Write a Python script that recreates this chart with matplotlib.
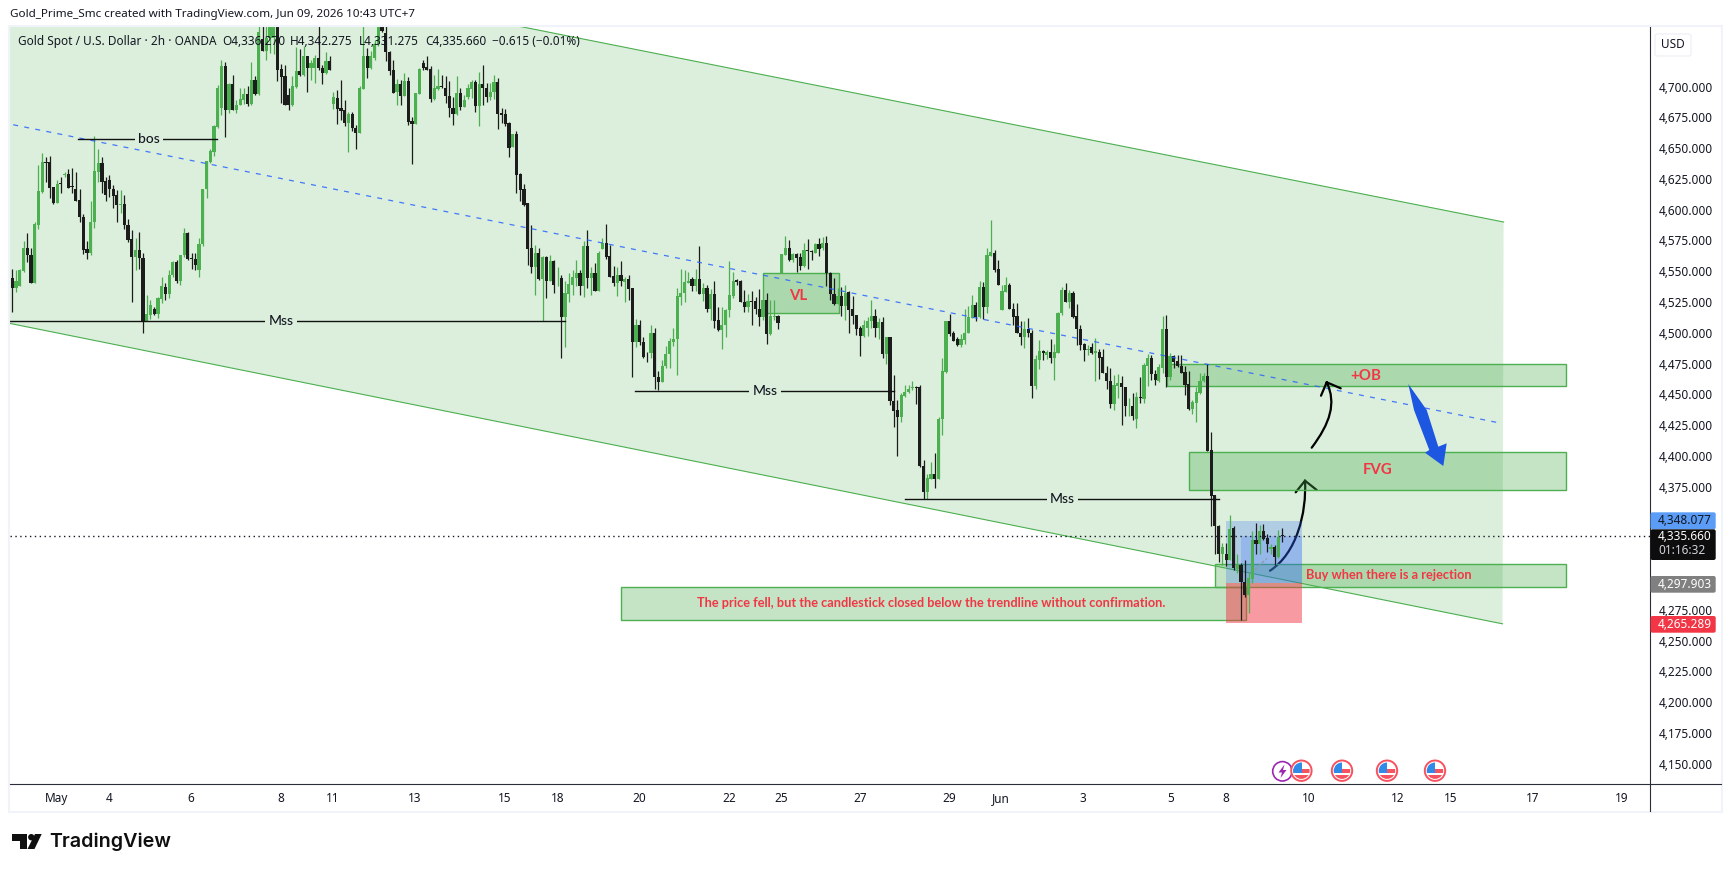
import matplotlib
matplotlib.use("Agg")
import matplotlib.pyplot as plt
import numpy as np
from matplotlib.patches import Rectangle, Polygon, PathPatch, Circle, FancyBboxPatch
from matplotlib.path import Path
from matplotlib.transforms import ScaledTranslation

# ---------- candle data: (open, high, low, close) ----------
ohlc_early_may = [
(4545,4553,4518,4537.5),(4537.5,4552,4534,4543),(4539,4552.5,4539,4552),(4551,4575,4550,4569.5),(4569.5,4581.5,4558.5,4564),
(4564,4569.5,4541,4541),(4541,4591,4541,4589),(4588.5,4637,4585,4616),(4615.5,4646.5,4614,4639.5),(4639.5,4644,4623.5,4639),
(4639.5,4644.5,4610,4618.5),(4619,4619.5,4605.5,4606.5),(4606.5,4625,4606.5,4622),(4622.5,4627,4614,4622),(4629,4631.5,4627,4630),
(4630,4634,4618.5,4618.5),(4619.5,4635,4614,4619),(4618,4631.5,4608,4608),(4608.5,4618,4591,4594.5),(4594.5,4597,4564.5,4568),
(4568.5,4575.5,4560.5,4566),(4566,4607.5,4564,4591),(4590.5,4660.5,4586,4632.5),(4631.5,4650,4623.5,4639),(4639,4644,4614,4623.5),
(4624,4627.5,4607.5,4613),(4625,4629,4611.5,4618),(4618,4621,4602,4612),(4612.5,4617,4591,4605),(4605,4617,4598,4605.5),
(4605.5,4613,4585.5,4588),(4588,4593,4574.5,4576.5),(4577,4584.5,4526,4562),(4562,4577.5,4552,4568),(4568,4582.5,4553,4561.5),
(4561.5,4565.5,4501,4510),(4510,4531.5,4510,4516),(4515.5,4527.5,4512,4523.5),(4520,4522,4515.5,4516),(4516,4530,4512.5,4529),
(4528.5,4546.5,4525,4539),(4538,4541,4527.5,4532.5),(4532.5,4552,4529,4548),(4547.5,4559,4546.5,4558),(4558.5,4560,4541,4543),
(4543,4564,4539.5,4564),(4564,4586,4562.5,4581.5),(4581.5,4583,4560,4560.5),(4561,4565.5,4552.5,4560.5),(4560.5,4565.5,4551.5,4556),
(4551.5,4577.5,4546.5,4573),(4573,4618,4571.5,4618),(4617.5,4640,4610,4640),(4639.5,4650.5,4639,4648.5),(4648,4669.5,4644.5,4669),
(4668,4702,4667,4700),(4683,4722,4678,4717.5),(4717.5,4720.5,4660,4681.5),(4682,4703.5,4679,4702.5),(4702.5,4710,4681.5,4682),
(4681.5,4690,4679,4686),(4686,4699.5,4685.5,4691),(4689.5,4699.5,4687,4694.5),(4694.5,4701,4685,4687),(4687,4721,4685.5,4706.5),
(4706.5,4709.5,4694,4695),(4695,4760,4694,4745),
]
ohlc_mid_may = [
(4739.5,4755,4729.5,4730),(4730,4752,4722,4740.5),(4740.5,4765,4728,4755),(4740.5,4770,4727,4752),(4752,4775,4705,4714.5),
(4715,4719,4687.5,4708.5),(4709,4718.5,4686,4686),(4694,4699.5,4682,4685.5),(4685.5,4709,4685,4701),(4700.5,4733,4700,4713.5),
(4713.5,4731,4709,4710.5),(4710,4733.5,4709,4725.5),(4725.5,4726,4696.5,4715.5),(4715.5,4722.5,4706.5,4720),(4715.5,4726.5,4703.5,4724),
(4724,4750,4714.5,4715.5),(4716,4718.5,4702.5,4712),(4711.5,4729,4711,4721.5),(4721.5,4725.5,4714.5,4714.5),(4686.5,4696,4682.5,4692),
(4691.5,4698,4670.5,4682.5),(4683.5,4706,4674,4681),(4681.5,4690,4668.5,4671),(4671,4680.5,4647.5,4678.5),(4678.5,4680.5,4664.5,4667),
(4667,4669.5,4650.5,4663),(4663,4701,4663,4699.5),(4699,4755,4699,4725.5),(4725.5,4732,4707.5,4715.5),(4715.5,4729.5,4715,4725.5),
(4724,4739,4722.5,4735),(4735,4765,4733.5,4750),(4765,4775,4745.5,4746),(4744.5,4765,4721.5,4729),(4729,4730,4710.5,4713.5),
(4714,4722,4695.5,4695.5),(4696.5,4707,4686,4703),(4703,4706.5,4685.5,4693.5),(4693.5,4711.5,4693,4705.5),(4705,4708.5,4669.5,4672),
(4672.5,4676,4638,4670.5),(4670.5,4695.6,4670.5,4695.5),(4695,4716,4694.5,4715),(4720,4722,4714,4716),(4716.5,4726,4714,4714.5),
(4715,4717.5,4688.5,4691),(4691,4710.5,4690,4699.5),(4698.5,4715,4698,4701),(4701.5,4710.5,4700,4700.5),(4700,4709,4687.5,4693.5),
(4693.5,4705,4676,4683),(4683.5,4692.5,4670,4678.5),(4678.5,4709,4678,4695.5),(4695.5,4700,4682,4684.5),(4684.5,4694,4684,4689.5),
(4692.5,4702.5,4691,4699.5),(4699,4706.5,4691.5,4704.5),(4704.5,4706.5,4680.5,4685),(4685,4712.5,4669,4702.5),(4702.5,4718,4686,4699.5),
(4700,4703.5,4688.5,4692.5),(4692.5,4703.5,4689.5,4696.5),(4696.5,4710.5,4691,4704.5),(4704.5,4708,4666.5,4678.5),(4679,4683.5,4671,4678),
(4678.5,4682.5,4668.5,4670.5),(4671,4672,4643.5,4651),(4652,4662.5,4652,4662.5),(4662.5,4664.5,4614,4629),
]
ohlc_late_may = [
(4629.5,4631,4607.5,4617),(4617.5,4621.5,4604,4605),(4606,4606,4556,4569),(4569.5,4588.5,4549.5,4554),(4554,4572,4531.5,4565.5),
(4565.5,4569.5,4543.5,4544.5),(4544.5,4563,4510,4562),(4562,4563,4529,4543),(4543,4564,4543,4559),(4559,4560,4533.5,4540),
(4545,4554.5,4538.5,4545.5),(4545,4548,4480,4514),(4514,4542.5,4489.5,4533),(4532.5,4549,4525.5,4540.5),(4540,4552,4531.5,4546),
(4545.5,4560,4538.5,4549),(4549,4552,4531.5,4539),(4539,4575,4530,4571.5),(4571.5,4584.5,4537.5,4545.5),(4545.5,4554.5,4531.5,4549),
(4549,4557.5,4534.5,4535),(4535,4567,4535,4566),(4569,4578,4569,4574),(4573.5,4589,4561,4562),(4563,4572,4546,4546.5),
(4547,4555,4538.5,4541.5),(4541.5,4554,4531,4548),(4548,4559,4539,4542.5),(4542,4546.5,4525.5,4544.5),(4544.5,4548,4527.5,4536.5),
(4537,4537,4464.5,4493),(4493,4512,4489.5,4507),(4507,4511,4491,4493),(4493,4497,4480,4481.5),(4484.5,4485.5,4477,4484),
(4484,4507.5,4480,4500.5),(4500.5,4504.5,4455.5,4464.5),(4465,4469.5,4454.5,4461),(4461,4478.5,4461,4474),(4473.5,4490,4472.5,4483.5),
(4483.5,4496.5,4472.5,4494),(4493.5,4504.5,4490,4495.5),(4495.5,4537.5,4466.5,4530.5),(4530,4552.5,4523,4533.5),(4533.5,4552,4526,4542),
(4541.5,4550.5,4541,4543),(4544.5,4546.5,4535,4539),(4539,4552.5,4534.5,4544.5),(4544.5,4571,4532,4532.5),(4532.5,4541,4527,4537.5),
(4537.5,4540,4518,4520.5),(4520.5,4536,4511,4532.5),(4532.5,4543,4505,4510.5),(4511,4521.5,4502,4503),(4503,4521.5,4488,4507.5),
(4507.5,4520,4497,4519),(4519,4559,4514,4531.5),(4531,4550.5,4529,4543),(4544,4544.5,4540,4542),(4543,4543.5,4525.5,4525.5),
(4526,4535.5,4518,4522),(4522,4532.5,4518,4526.5),(4526.5,4534.5,4507,4526),(4526.5,4530,4516,4520.5),(4520.5,4536,4506.5,4514),
(4514,4527.5,4511,4527.5),(4527.5,4533.5,4491.5,4499.5),
]
ohlc_end_may = [
(4499.5,4527.5,4499,4514.5),(4514,4527.5,4511,4514.5),(4514.5,4515,4504,4509),(4549,4565,4549,4565),(4564,4579.5,4564,4569.5),
(4569.5,4576,4559,4560),(4560,4566,4558.5,4564.5),(4564.5,4566,4550.5,4561.5),(4562.5,4565.5,4552,4555),(4555,4574,4554.5,4568),
(4567.5,4577,4552.5,4567),(4567,4568,4560,4566.5),(4566,4574,4565.5,4573),(4573,4577.5,4563,4569),(4569.5,4579,4568,4574),
(4574,4579.5,4539,4549),(4549,4550,4527.5,4532),(4532,4545,4523.5,4524),(4524,4537,4524,4530.5),(4530.5,4538,4514.5,4522.5),
(4522.5,4540,4511,4533.5),(4534,4535,4501,4519),(4520,4531,4508,4514.5),(4515,4515,4499,4504),(4505,4506,4482,4498),
(4498,4511,4497.5,4507),(4505,4514,4498,4510.5),(4510,4527.5,4504.5,4514.5),(4514.5,4520.5,4497,4505),(4504.5,4512.5,4496,4509.5),
(4509.5,4513.5,4480,4483.5),(4483.5,4497.5,4475.5,4497.5),(4497,4497,4442,4445),(4445.5,4466.5,4424.5,4437.5),(4438,4446,4400.5,4432.5),
(4432.5,4451.5,4428,4450),(4449.5,4458,4449,4453),(4452.5,4458,4451.5,4455),(4456,4461.5,4454.5,4456.5),(4457,4457.5,4443,4456),
(4456.5,4458.5,4392,4393),(4393,4397.5,4366,4371.5),(4371.5,4386.5,4366,4382.5),(4382,4395.5,4382,4386),(4386,4403.5,4375,4382),
(4382,4432.5,4382,4431),(4431,4480,4418,4469.5),(4469,4510.5,4468,4510.5),(4510.5,4516,4498.5,4500),(4500.5,4502.5,4494.5,4494.5),
(4496,4497.5,4490,4490.5),(4490.5,4499.5,4489,4495.5),(4495,4520,4492,4501),(4501,4522.5,4500.5,4514),(4513,4531.5,4512.5,4523.5),
(4523.5,4525.5,4510,4514),(4514,4543,4513,4538),(4538,4542,4512,4522),(4521.5,4570,4517,4564),(4563.5,4592.5,4563,4566.5),
(4566,4568,4550,4552),(4552.5,4560,4539.5,4540),(4519.5,4539.5,4519.5,4535),(4534,4546.5,4534,4540),(4540,4541.5,4520.5,4520.5),
(4520.5,4525,4507.5,4514),(4514.5,4525,4500.5,4501),
]
ohlc_june = [
(4501,4510,4490.5,4497),(4497,4510.5,4488.5,4504),(4504,4512.5,4497.5,4501),(4501,4503,4447.5,4457.5),(4457.5,4482.5,4455.5,4479.5),
(4479,4495,4471.5,4486),(4486,4487,4478.5,4484),(4482.5,4486.5,4479.5,4485.5),(4485,4496,4476.5,4480.5),(4480.5,4491.5,4462.5,4485),
(4484.5,4518,4484,4517),(4516.5,4538,4515,4535.5),(4535.5,4541,4526,4526),(4526,4535.5,4521,4533),(4533,4535,4513,4514),
(4514.5,4524,4490.5,4503.5),(4503.5,4507.5,4486.5,4491),(4491.5,4492.5,4478,4486.5),(4487,4491,4482.5,4487.5),(4489,4492.5,4483.5,4484),
(4484,4496.5,4462,4486),(4485,4487.5,4463.5,4480.5),(4481,4487.5,4468,4468.5),(4468.5,4474,4455,4461.5),(4462,4472,4439.5,4443),
(4443,4466.5,4438,4458),(4457.5,4467.5,4448,4460),(4460,4465.5,4426,4456.5),(4456.5,4457,4433.5,4441),(4441,4447.5,4433.5,4441.5),
(4441,4452,4430,4433),(4431,4452.5,4423.5,4448.5),(4449,4465,4444,4448),(4447,4476,4443.5,4474.5),(4474,4483.5,4457.5,4480.5),
(4480.5,4482.5,4462.5,4467),(4467.5,4470.5,4458.5,4462.5),(4462,4475.5,4460.5,4473),(4472,4514.5,4468,4504),(4504,4515.5,4457,4465),
(4465,4484,4462.5,4482),(4482,4482.5,4472,4477),(4478,4483,4473,4474),(4474,4482.5,4468,4468.5),(4469,4474,4450.5,4458.5),
(4459,4470,4438,4439),(4439,4446,4435,4444.5),(4444,4456.5,4428.5,4452.5),(4452,4468.5,4451,4462),(4462,4468,4461,4465.5),
(4466,4475.5,4405,4405),(4406,4420.5,4344,4368.5),(4369,4369,4321.5,4343.5),(4344,4345,4315,4321.5),(4321,4330,4312,4326.5),
(4321,4330,4311,4316.5),(4316.5,4353,4316,4341.5),(4342,4343.5,4308,4309.5),(4309,4321.5,4305.5,4313),(4312,4313.5,4267.5,4298.5),
(4298.5,4316.5,4286,4287.5),(4287.5,4305.5,4273,4301.5),(4301,4339.5,4297.5,4332.5),(4332.5,4346,4321.5,4329.5),(4329.5,4344.5,4321.5,4340),
(4339.5,4345.5,4332.5,4333.5),(4334.5,4337.5,4323,4329),(4325.5,4329.5,4321.5,4326.5),(4327,4328.5,4312,4319),(4319,4340.5,4317.5,4335),
(4336.27,4342.275,4331.275,4335.66),
]

time_tick_pos = [11.9,25.9,47.8,71.9,85.8,107.8,131.9,145.9,167.8,191.9,206,227,250.8,264.7,286.7,310.2,324.9,347,371,385,407.2,431]
time_tick_lab = ["May","4","6","8","11","13","15","18","20","22","25","27","29","Jun","3","5","8","10","12","15","17","19"]
price_ticks = [4150,4175,4200,4225,4250,4275,4375,4400,4425,4450,4475,4500,4525,4550,4575,4600,4625,4650,4675,4700]

last_price = 4335.66
entry_price = 4297.903
target_price = 4348.077
stop_price = 4265.289

GREEN = "#4caf50"
BLACK = "#1c1c1c"
RED = "#f23645"
plt.rcParams["font.family"] = ["Noto Sans", "DejaVu Sans"]
LATO = ["Lato", "DejaVu Sans"]
FS = 8.5

W, H = 1731, 872
fig = plt.figure(figsize=(W/100, H/100), dpi=100, facecolor="white")

ax = fig.add_axes([10/W, 1-784/H, 1640/W, 757/H], facecolor="white")
ax.set_xlim(-0.616, 438.5)
ax.set_ylim(4134.3, 4749.2)
for s in ax.spines.values():
    s.set_visible(False)
ax.yaxis.tick_right()
ax.set_yticks(price_ticks)
ax.set_yticklabels([f"{p:,.3f}" for p in price_ticks], fontsize=FS, color="#131722")
ax.tick_params(axis="y", length=0, pad=6.3)
ax.set_xticks(time_tick_pos)
ax.set_xticklabels(time_tick_lab, fontsize=FS, color="#131722")
ax.tick_params(axis="x", length=0, pad=6)
up_shift = ScaledTranslation(0, 1/100, fig.dpi_scale_trans)
for lab in ax.get_yticklabels():
    lab.set_transform(lab.get_transform() + up_shift)

ov = fig.add_axes([0, 0, 1, 1], facecolor="none")
ov.set_xlim(0, W)
ov.set_ylim(H, 0)
ov.axis("off")

ch_x = [-0.6, 399.3, 399.0, -0.6]
ch_y = [4832, 4590.8, 4264.4, 4508.4]
ax.add_patch(Polygon(list(zip(ch_x, ch_y)), closed=True, facecolor=GREEN, alpha=0.2, edgecolor="none", zorder=1))
ax.plot(ch_x[:2], ch_y[:2], color=GREEN, lw=0.8, zorder=2)
ax.plot(ch_x[2:], ch_y[2:], color=GREEN, lw=0.8, zorder=2)

def curve(p0, c1, c2, p1, head, z, target):
    verts = [p0, c1, c2, p1, head[0], p1, head[1]]
    codes = [Path.MOVETO, Path.CURVE4, Path.CURVE4, Path.CURVE4, Path.MOVETO, Path.LINETO, Path.LINETO]
    pp = PathPatch(Path(verts, codes), facecolor="none", edgecolor="black", lw=1.6, zorder=z,
                   transform=ov.transData, capstyle="round")
    target.add_patch(pp)

curve((1270,570.7),(1296.7,553.3),(1306.7,513),(1305,480.7),[(1295.7,492.3),(1316.7,490)],2.5,ax)

boxes = [(201.1,221.3,4516.7,4549.2),(309.1,416.1,4457.9,4475.2),(315.1,416.1,4372.9,4403.8),
         (322.1,416.1,4294.6,4312.8),(163.1,330.2,4267.3,4294.1)]
for x0,x1,y0,y1 in boxes:
    ax.add_patch(Rectangle((x0,y0),x1-x0,y1-y0,facecolor=(0.298,0.686,0.314,0.33),edgecolor=GREEN,lw=1.0,zorder=3))

ax.add_patch(Rectangle((325,entry_price),20.3,target_price-entry_price,facecolor=(0.16,0.38,1.0,0.24),edgecolor="none",zorder=3.2))
ax.add_patch(Rectangle((325,stop_price),20.3,entry_price-stop_price,facecolor=(0.95,0.21,0.27,0.5),edgecolor="none",zorder=3.2))
ax.add_patch(Rectangle((329,entry_price),16.3,last_price-entry_price,facecolor=(0.16,0.38,1.0,0.2),edgecolor="none",zorder=3.3))
ax.plot([332.7,335.9],[4308.5,4317.5],color="#8c9aa8",lw=1,ls=(0,(2,1.5)),zorder=3.4)

rows = ohlc_early_may + ohlc_mid_may + ohlc_late_may + ohlc_end_may + ohlc_june
opens, highs, lows, closes = [np.array(v, float) for v in zip(*rows)]
xs = np.arange(len(rows))
up = closes >= opens
cols = np.where(up, GREEN, BLACK)
ax.vlines(xs, lows, highs, colors=cols, lw=0.9, zorder=4)
bottoms = np.minimum(opens, closes)
heights = np.maximum(np.abs(closes-opens), 0.7)
ax.bar(xs, heights, bottom=bottoms, width=0.85, color=cols, linewidth=0, zorder=4.5)

ax.plot([0.24,398],[4669.8,4427.7],color="#2962ff",lw=0.9,ls=(0,(4,5)),zorder=5,alpha=0.85)
ax.plot([-0.6,438.5],[last_price,last_price],color="#131722",lw=1,ls=(0,(1,2.5)),zorder=5)

levels = [(17.7,54.9,4658.6,36.6,"bos"),(-0.6,148,4510.2,72,"Mss"),(166.7,236,4453.8,201.5,"Mss"),(239,323,4366,281.2,"Mss")]
for x0,x1,y,tx,lab in levels:
    ax.plot([x0,x1],[y,y],color="#111111",lw=1,zorder=5)
    ax.text(tx,y,lab,ha="center",va="center",family=LATO,fontsize=10,fontweight="medium",color="#131722",zorder=6,
            bbox=dict(facecolor="#dcefdc",edgecolor="none",pad=2.5))

for tx,ty,s in [(210.5,4531,"VL"),(362.5,4466,"+OB"),(365.5,4389,"FVG")]:
    ax.text(tx,ty,s,color=RED,family=LATO,fontsize=10.8,fontweight="bold",ha="center",va="center",zorder=6)
ax.text(346.5,4304,"Buy when there is a rejection",color=RED,family=LATO,fontsize=9.2,ha="left",va="center",zorder=6,fontweight="bold")
ax.text(183.2,4281,"The price fell, but the candlestick closed below the trendline without confirmation.",
        color=RED,family=LATO,fontsize=9.2,ha="left",va="center",zorder=6,fontweight="bold")

curve((1311.7,447.7),(1330,423.3),(1336.7,403.3),(1326.7,382.3),[(1321,395.7),(1340.7,388.3)],7,ov)
ov.add_patch(Polygon([(1408.3,384),(1426.7,410),(1438.3,446.7),(1446.7,443.3),(1443.3,466),(1425,452.7),(1429.3,450),(1414,410)],
                     closed=True,facecolor="#1d56e0",edgecolor="none",zorder=7))

ov.add_patch(Rectangle((9,26.5),1713,785,facecolor="none",edgecolor="#f0f3fa",lw=1.5,zorder=1))
ov.plot([10,1721],[784.3,784.3],color="#2a2e39",lw=0.8,zorder=2)
ov.plot([1650,1650],[27,811],color="#2a2e39",lw=0.8,zorder=2)

ov.add_patch(FancyBboxPatch((1655,34),36,22,boxstyle="round,pad=0,rounding_size=2",facecolor="white",edgecolor="#eceef3",lw=0.8,zorder=3))
ov.text(1673,44.5,"USD",fontsize=FS,color="#131722",ha="center",va="center",zorder=4)

def tag(y0,y1,color):
    ov.add_patch(FancyBboxPatch((1650.5,y0),65.2,y1-y0,boxstyle="round,pad=0,rounding_size=2",facecolor=color,edgecolor="none",zorder=5))
tag(512.3,529.3,"#5b9cf6")
ov.text(1658,520.5,f"{target_price:,.3f}",fontsize=FS,color="#131722",va="center",zorder=6)
tag(529.3,560,"#0d0d0d")
ov.text(1658,536.5,f"{last_price:,.3f}",fontsize=FS,color="white",va="center",zorder=6,fontweight="semibold")
ov.text(1658,550.5,"01:16:32",fontsize=FS,color="#d1d4dc",va="center",zorder=6)
tag(576,592.7,"#808080")
ov.text(1658,584,f"{entry_price:,.3f}",fontsize=FS,color="white",va="center",zorder=6,fontweight="semibold")
tag(616,632.7,RED)
ov.text(1658,624,f"{stop_price:,.3f}",fontsize=FS,color="white",va="center",zorder=6,fontweight="semibold")

ov.add_patch(Circle((1282.4,771.3),9.7,facecolor="white",edgecolor="#9c27b0",lw=1.2,zorder=5))
ov.add_patch(Polygon([(1284.5,764.5),(1278.5,772.5),(1282,772.5),(1280.5,778),(1286.5,770),(1283,770)],closed=True,facecolor="#9c27b0",edgecolor="none",zorder=6))
for cx in [1301.4,1342,1387,1435]:
    ring = Circle((cx,770.7),10.2,facecolor="white",edgecolor="#f7525f",lw=1.4,zorder=6)
    ov.add_patch(ring)
    clip = Circle((cx,770.7),8.2,transform=ov.transData)
    for rect in [Rectangle((cx-9,768.5),18,4.5,facecolor="#f7525f",edgecolor="none",zorder=7),
                 Rectangle((cx-9,775),18,4.5,facecolor="#f7525f",edgecolor="none",zorder=7),
                 Rectangle((cx-9,761),9.5,11.5,facecolor="#2f8ae8",edgecolor="none",zorder=8)]:
        ov.add_patch(rect)
        rect.set_clip_path(clip)

ov.text(10,15,"Gold_Prime_Smc created with TradingView.com, Jun 09, 2026 10:43 UTC+7",fontsize=8.4,color="#131722",va="center",zorder=9)
ov.text(18,41.7,"Gold Spot / U.S. Dollar · 2h · OANDA",fontsize=FS,color="#131722",va="center",zorder=9)
for px,s in [(222.7,"O4,336.270"),(290,"H4,342.275"),(358.6,"L4,331.275"),(424.8,"C4,335.660"),(491.8,"−0.615 (−0.01%)")]:
    ov.text(px,41.7,s,fontsize=FS,color="#131722",va="center",zorder=9)

ov.add_patch(Polygon([(12,834),(27.5,834),(27.5,849),(20.5,849),(20.5,840.5),(12,840.5)],closed=True,facecolor="#0f0f0f",edgecolor="none"))
ov.add_patch(Circle((31.3,837.2),3.2,facecolor="#0f0f0f",edgecolor="none"))
ov.add_patch(Polygon([(35,834),(41.7,834),(34.5,849),(27.5,849)],closed=True,facecolor="#0f0f0f",edgecolor="none"))
ov.text(49.5,842,"TradingView",family=["Inter","DejaVu Sans"],fontsize=14.2,fontweight="semibold",color="#0f0f0f",va="center")

fig.savefig("out.png",dpi=100,facecolor="white")
